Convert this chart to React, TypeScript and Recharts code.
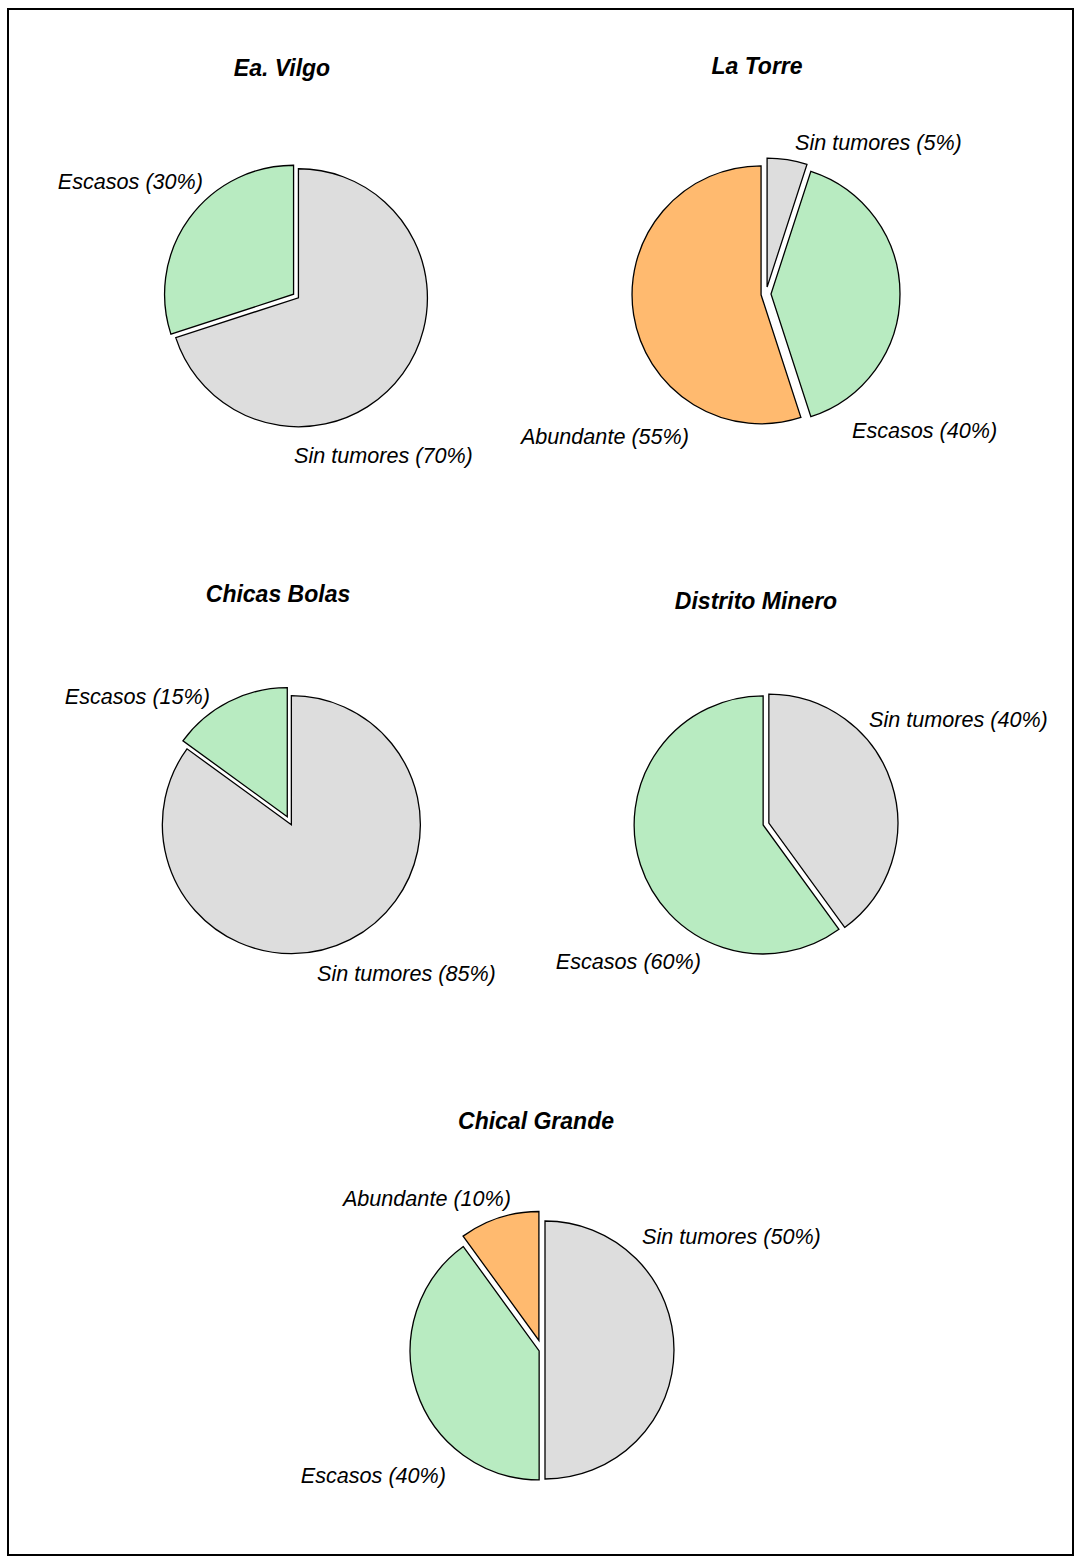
import { PieChart, Pie, Cell, Sector } from 'recharts'

// porcentaje de ejemplares por categoría en cada sitio
const vilgo = [
  { name: 'Sin tumores', value: 70 },
  { name: 'Escasos', value: 30 },
]
const laTorre = [
  { name: 'Sin tumores', value: 5 },
  { name: 'Escasos', value: 40 },
  { name: 'Abundante', value: 55 },
]
const chicasBolas = [
  { name: 'Sin tumores', value: 85 },
  { name: 'Escasos', value: 15 },
]
const distritoMinero = [
  { name: 'Sin tumores', value: 40 },
  { name: 'Escasos', value: 60 },
]
const chicalGrande = [
  { name: 'Sin tumores', value: 50 },
  { name: 'Escasos', value: 40 },
  { name: 'Abundante', value: 10 },
]

const COLORS: Record<string, string> = {
  'Sin tumores': '#DDDDDD',
  Escasos: '#B8EBC1',
  Abundante: '#FFBA6F',
}

const FONT = "'Liberation Sans', Arial, sans-serif"
const R = 129

// dx, dy relativos al centro de cada torta; explode = desplazamiento de la porción
type LabelPos = { dx: number; dy: number; anchor: 'start' | 'end' }
type Site = {
  title: string
  data: { name: string; value: number }[]
  cx: number
  cy: number
  tx: number
  ty: number
  explode: Record<string, number>
  labels: Record<string, LabelPos>
}

const sites: Site[] = [
  {
    title: 'Ea. Vilgo', data: vilgo, cx: 296, cy: 296, tx: 282, ty: 68,
    explode: { 'Sin tumores': 3, Escasos: 3 },
    labels: {
      Escasos: { dx: -93, dy: -115, anchor: 'end' },
      'Sin tumores': { dx: -2, dy: 159, anchor: 'start' },
    },
  },
  {
    title: 'La Torre', data: laTorre, cx: 766, cy: 294, tx: 757, ty: 66,
    explode: { 'Sin tumores': 7, Escasos: 5, Abundante: 5 },
    labels: {
      'Sin tumores': { dx: 29, dy: -152, anchor: 'start' },
      Escasos: { dx: 86, dy: 136, anchor: 'start' },
      Abundante: { dx: -77, dy: 142, anchor: 'end' },
    },
  },
  {
    title: 'Chicas Bolas', data: chicasBolas, cx: 290, cy: 822, tx: 278, ty: 594,
    explode: { 'Sin tumores': 3, Escasos: 6 },
    labels: {
      Escasos: { dx: -80, dy: -126, anchor: 'end' },
      'Sin tumores': { dx: 27, dy: 151, anchor: 'start' },
    },
  },
  {
    title: 'Distrito Minero', data: distritoMinero, cx: 766, cy: 824, tx: 756, ty: 601,
    explode: { 'Sin tumores': 3, Escasos: 3 },
    labels: {
      'Sin tumores': { dx: 103, dy: -105, anchor: 'start' },
      Escasos: { dx: -65, dy: 137, anchor: 'end' },
    },
  },
  {
    title: 'Chical Grande', data: chicalGrande, cx: 542, cy: 1350, tx: 536, ty: 1121,
    explode: { 'Sin tumores': 3, Escasos: 3, Abundante: 10 },
    labels: {
      Abundante: { dx: -31, dy: -152, anchor: 'end' },
      'Sin tumores': { dx: 100, dy: -114, anchor: 'start' },
      Escasos: { dx: -96, dy: 125, anchor: 'end' },
    },
  },
]

const RAD = Math.PI / 180

function explodedShape(site: Site) {
  return (props: any) => {
    const d = site.explode[props.payload?.name ?? props.name] || 0
    const dx = d * Math.cos(-props.midAngle * RAD)
    const dy = d * Math.sin(-props.midAngle * RAD)
    return <Sector {...props} cx={props.cx + dx} cy={props.cy + dy} />
  }
}

function sliceLabel(site: Site) {
  return (props: any) => {
    const name = props.payload?.name ?? props.name
    const p = site.labels[name]
    if (!p) return null
    return (
      <text x={props.cx + p.dx} y={props.cy + p.dy} textAnchor={p.anchor}
        dominantBaseline='central' fontFamily={FONT} fontSize={21.6}
        fontStyle='italic' fill='#000'>
        {`${name} (${props.value}%)`}
      </text>
    )
  }
}

export default function App() {
  return (
    <div style={{ position: 'absolute', left: 0, top: 0, width: 1074, height: 1557, background: '#fff' }}>
      <PieChart width={1074} height={1557} margin={{ top: 0, right: 0, bottom: 0, left: 0 }}>
        <rect x={8} y={9} width={1065} height={1546} fill='none' stroke='#000' strokeWidth={2} />
        {sites.map((s) => (
          <text key={'t' + s.title} x={s.tx} y={s.ty} textAnchor='middle' dominantBaseline='central'
            fontFamily={FONT} fontSize={23} fontWeight='bold' fontStyle='italic' fill='#000'>
            {s.title}
          </text>
        ))}
        {sites.map((s) => (
          <Pie key={s.title} data={s.data} dataKey='value' nameKey='name'
            cx={s.cx} cy={s.cy} outerRadius={R} innerRadius={0}
            startAngle={90} endAngle={-270}
            stroke='#000' strokeWidth={1.3}
            shape={explodedShape(s)}
            label={sliceLabel(s)} labelLine={false}
            isAnimationActive={false}>
            {s.data.map((e) => <Cell key={e.name} fill={COLORS[e.name]} />)}
          </Pie>
        ))}
      </PieChart>
    </div>
  )
}
